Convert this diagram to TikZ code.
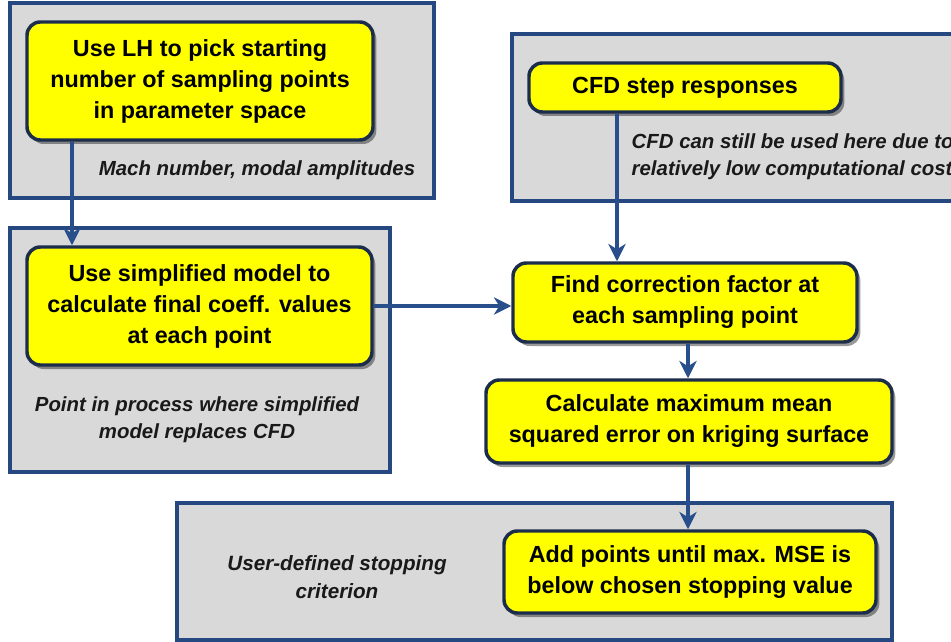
\documentclass[tikz,border=0pt]{standalone}
\usepackage{fontspec}
\setmainfont{Liberation Sans}
\usetikzlibrary{arrows.meta,shadows}
\definecolor{panelfill}{RGB}{217,217,217}
\definecolor{panelline}{RGB}{38,72,128}
\definecolor{boxline}{RGB}{28,45,75}
\definecolor{arrowcol}{RGB}{40,78,140}
\definecolor{yel}{RGB}{255,255,0}
\begin{document}
\begin{tikzpicture}[x=0.75pt,y=-0.75pt,
  panel/.style={draw=panelline,line width=2.8pt,fill=panelfill},
  ybox/.style={draw=boxline,line width=2.6pt,fill=yel,rounded corners=10pt,align=center,inner sep=0pt,
    font=\fontsize{17.5}{23.25}\selectfont\bfseries,
    drop shadow={shadow xshift=2.5pt,shadow yshift=-3pt,fill=black,opacity=0.4}},
  note/.style={font=\fontsize{15.3}{20.5}\selectfont\bfseries\itshape,text=black!90},
  flow/.style={draw=arrowcol,line width=2.6pt,-{Stealth[length=13pt,width=13pt,inset=4pt]}}]
\useasboundingbox (0,0) rectangle (951,642);
\clip (0,0) rectangle (951,642);
\fill[white] (0,0) rectangle (951,642);
% panels
\draw[panel] (10,3) rectangle (434,198);
\draw[panel] (512,34) rectangle (970,201);
\draw[panel] (10,228) rectangle (390,472);
\draw[panel] (177,503) rectangle (892,640);
% notes
\node[note,align=center] (n1) at (257,170) {Mach number, modal amplitudes};
\node[note,align=left,anchor=west] (n2) at (627,156.5) {CFD can still be used here due to\\relatively low computational cost};
\node[note,align=center] (n3) at (197,420) {Point in process where simplified\\model replaces CFD};
\node[note,align=center,font=\fontsize{15.5}{21}\selectfont\bfseries\itshape] (n4) at (337,577) {User-defined stopping\\criterion};
% boxes
\node[ybox,minimum width=259.5pt,minimum height=88.5pt] (lh) at (200,81) {Use LH to pick starting\\number of sampling points\\in parameter space};
\node[ybox,minimum width=258.75pt,minimum height=88.5pt] (sim) at (199.5,306) {Use simplified model to\\calculate final coeff. values\\at each point};
\node[ybox,minimum width=234pt,minimum height=36.75pt] (cfd) at (685,87.5) {CFD step responses};
\node[ybox,minimum width=258pt,minimum height=59.25pt] (find) at (685,302.5) {Find correction factor at\\each sampling point};
\node[ybox,minimum width=304.5pt,minimum height=62.25pt] (calc) at (689,421.5) {Calculate maximum mean\\squared error on kriging surface};
\node[ybox,minimum width=279pt,minimum height=61.5pt] (add) at (690,572) {Add points until max. MSE is\\below chosen stopping value};
% connectors
\coordinate (c1) at (72,0);
\coordinate (c2) at (617,0);
\coordinate (c3) at (688,0);
\draw[flow] (lh.south -| c1) -- (sim.north -| c1);
\draw[flow] (cfd.south -| c2) -- (find.north -| c2);
\draw[flow] (sim.east) -- (sim.east -| find.west);
\draw[flow] (find.south -| c3) -- (calc.north -| c3);
\draw[flow] (calc.south -| c3) -- (add.north -| c3);
\end{tikzpicture}
\end{document}
